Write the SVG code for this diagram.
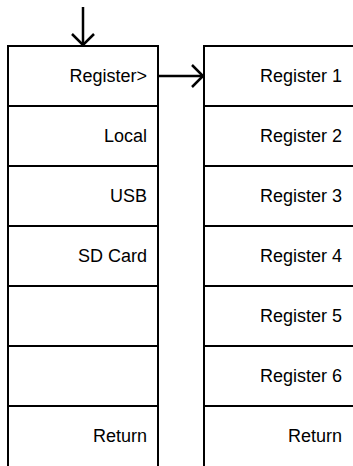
<svg xmlns="http://www.w3.org/2000/svg" width="353" height="466" viewBox="0 0 353 466">
<style>
.box{fill:#fff;stroke:#000;stroke-width:2}
.sep{stroke:#000;stroke-width:2}
.t{font-family:"Liberation Sans",Arial,sans-serif;font-size:18px;fill:#000;text-anchor:end}
.c{fill:none;stroke:#000;stroke-width:2.5}
</style>
<rect width="353" height="466" fill="#fff"/>
<g id="menu-left">
<path class="box" d="M8,470 V46 H158 V470"/>
<g class="sep"><line x1="8" y1="106" x2="158" y2="106"/><line x1="8" y1="166" x2="158" y2="166"/><line x1="8" y1="226" x2="158" y2="226"/><line x1="8" y1="286" x2="158" y2="286"/><line x1="8" y1="346" x2="158" y2="346"/><line x1="8" y1="406" x2="158" y2="406"/></g>
<text class="t" x="147" y="82">Register&gt;</text>
<text class="t" x="147" y="142">Local</text>
<text class="t" x="147" y="202">USB</text>
<text class="t" x="147" y="262">SD Card</text>
<text class="t" x="147" y="442">Return</text>
</g>
<g id="menu-right">
<path class="box" d="M204,470 V46 H360 V470"/>
<g class="sep"><line x1="204" y1="106" x2="360" y2="106"/><line x1="204" y1="166" x2="360" y2="166"/><line x1="204" y1="226" x2="360" y2="226"/><line x1="204" y1="286" x2="360" y2="286"/><line x1="204" y1="346" x2="360" y2="346"/><line x1="204" y1="406" x2="360" y2="406"/></g>
<text class="t" x="342" y="82">Register 1</text>
<text class="t" x="342" y="142">Register 2</text>
<text class="t" x="342" y="202">Register 3</text>
<text class="t" x="342" y="262">Register 4</text>
<text class="t" x="342" y="322">Register 5</text>
<text class="t" x="342" y="382">Register 6</text>
<text class="t" x="342" y="442">Return</text>
</g>
<g id="connectors">
<line class="c" x1="83" y1="7" x2="83" y2="45"/>
<polyline class="c" points="72,34 83,45 94,34"/>
<line class="c" x1="158" y1="76" x2="202" y2="76"/>
<polyline class="c" points="192,65 203,76 192,87"/>
</g>
</svg>
